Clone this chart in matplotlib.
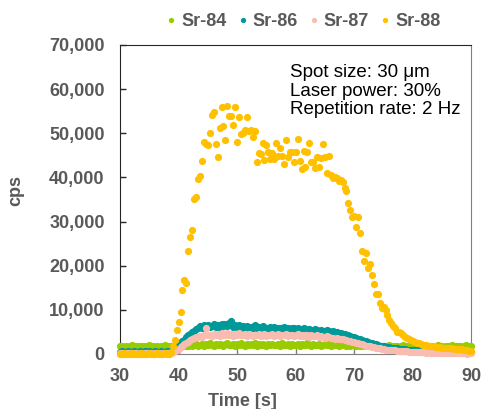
import numpy as np
import matplotlib.pyplot as plt
from matplotlib.lines import Line2D
from matplotlib.ticker import FuncFormatter

# Datos (en miles de cps), una lectura cada 1/3 s entre 30 y 90 s
tiempo = np.arange(181) / 3 + 30

sr84 = [1.7, 1.9, 1.6, 1.8, 1.5, 1.7, 2.0, 1.6, 1.8, 1.7,
        1.9, 1.5, 1.7, 1.8, 1.6, 2.0, 1.7, 1.8, 1.5, 1.9,
        1.6, 1.8, 1.7, 2.1, 1.6, 1.8, 1.7, 1.9, 1.6, 1.8,
        1.7, 1.9, 1.8, 2.0, 1.7, 1.9, 2.1, 1.8, 2.0, 2.2,
        1.9, 2.1, 2.3, 1.9, 2.2, 2.0, 2.4, 2.1, 1.9, 2.2,
        2.0, 2.3, 2.1, 1.9, 2.2, 2.4, 2.0, 2.1, 2.3, 1.9,
        2.2, 2.0, 2.4, 2.1, 1.9, 2.3, 2.0, 2.2, 2.1, 2.4,
        1.9, 2.2, 2.0, 2.3, 2.1, 1.9, 2.2, 2.0, 2.3, 2.1,
        2.0, 2.2, 1.9, 2.4, 2.1, 2.0, 2.3, 1.9, 2.2, 2.0,
        2.1, 2.3, 1.9, 2.2, 2.0, 2.1, 2.4, 2.0, 1.9, 2.2,
        2.1, 2.0, 2.3, 1.9, 2.1, 2.2, 2.0, 2.3, 1.9, 2.1,
        2.0, 2.2, 1.9, 2.1, 2.0, 2.2, 1.8, 2.1, 1.9, 2.0,
        2.1, 1.8, 2.0, 1.9, 2.1, 1.8, 2.0, 1.7, 1.9, 1.8,
        2.0, 1.7, 1.9, 1.8, 1.6, 1.9, 1.7, 1.8, 2.0, 1.6,
        1.8, 1.7, 1.9, 1.6, 1.8, 2.0, 1.7, 1.8, 1.6, 1.9,
        1.7, 1.8, 2.0, 1.6, 1.8, 1.7, 1.9, 1.5, 1.8, 1.7,
        1.9, 1.6, 1.8, 2.0, 1.7, 1.8, 1.6, 1.9, 1.7, 1.8,
        2.0, 1.6, 1.8, 1.7, 1.9, 1.6, 1.8, 2.0, 1.7, 1.8, 1.9]

sr86 = [0.5, 0.6, 0.4, 0.5, 0.7, 0.5, 0.4, 0.6, 0.5, 0.5,
        0.6, 0.4, 0.5, 0.7, 0.5, 0.6, 0.4, 0.5, 0.6, 0.5,
        0.4, 0.6, 0.5, 0.5, 0.7, 0.4, 0.6, 0.8, 1.1, 1.5,
        2.0, 2.3, 2.9, 3.2, 3.8, 4.2, 4.6, 5.0, 5.3, 5.7,
        5.9, 6.3, 5.9, 6.5, 6.2, 6.6, 6.1, 6.4, 6.8, 6.2,
        6.5, 6.0, 6.7, 6.3, 6.9, 6.4, 7.1, 7.5, 6.1, 6.5,
        6.2, 6.6, 5.9, 6.3, 6.0, 6.4, 5.8, 6.2, 6.0, 6.5,
        5.9, 6.1, 5.7, 6.3, 5.9, 6.0, 5.6, 6.1, 5.8, 6.2,
        5.7, 6.0, 5.8, 5.5, 6.1, 5.7, 5.9, 5.6, 6.0, 5.8,
        5.5, 5.9, 5.7, 5.4, 5.8, 5.6, 5.3, 5.7, 5.5, 5.2,
        5.6, 5.4, 5.1, 5.5, 5.3, 5.0, 5.4, 5.1, 4.9, 5.2,
        4.8, 4.9, 4.6, 4.7, 4.4, 4.5, 4.2, 4.3, 4.0, 3.9,
        3.8, 3.6, 3.5, 3.3, 3.2, 3.0, 2.9, 2.7, 2.6, 2.4,
        2.3, 2.2, 2.0, 1.9, 1.8, 1.7, 1.6, 1.6, 1.5, 1.4,
        1.4, 1.3, 1.3, 1.2, 1.2, 1.1, 1.1, 1.0, 1.0, 0.9,
        0.9, 0.9, 0.8, 0.8, 0.8, 0.7, 0.7, 0.7, 0.6, 0.7,
        0.6, 0.6, 0.5, 0.6, 0.5, 0.5, 0.6, 0.5, 0.4, 0.5,
        0.5, 0.4, 0.5, 0.4, 0.5, 0.4, 0.4, 0.5, 0.4, 0.4, 0.4]

sr87 = [0.2, 0.3, 0.1, 0.2, 0.2, 0.3, 0.1, 0.2, 0.2, 0.1,
        0.3, 0.2, 0.1, 0.2, 0.3, 0.2, 0.2, 0.1, 0.3, 0.2,
        0.2, 0.1, 0.3, 0.2, 0.2, 0.1, 0.2, 0.4, 0.6, 0.9,
        1.2, 1.5, 1.9, 2.2, 2.5, 2.8, 3.1, 3.3, 3.6, 3.8,
        3.9, 4.1, 3.8, 4.3, 5.9, 4.2, 4.4, 4.0, 4.6, 4.3,
        4.5, 4.1, 4.7, 4.4, 4.2, 4.8, 4.3, 4.6, 4.1, 4.5,
        4.3, 4.7, 4.2, 4.4, 4.6, 4.1, 4.5, 4.3, 4.0, 4.4,
        4.2, 4.6, 4.1, 4.3, 4.5, 4.0, 4.4, 4.2, 4.6, 4.1,
        4.3, 4.5, 4.0, 4.4, 4.2, 4.6, 4.1, 4.3, 4.4, 4.0,
        4.2, 4.5, 4.1, 4.3, 4.0, 4.4, 4.2, 3.9, 4.3, 4.1,
        4.0, 4.2, 3.8, 4.1, 3.9, 3.7, 4.0, 3.8, 3.6, 3.7,
        3.5, 3.6, 3.4, 3.3, 3.4, 3.1, 3.2, 3.0, 2.9, 2.8,
        2.7, 2.6, 2.4, 2.3, 2.2, 2.0, 1.9, 1.8, 1.7, 1.6,
        1.5, 1.4, 1.3, 1.3, 1.2, 1.1, 1.0, 1.0, 0.9, 0.9,
        0.8, 0.8, 0.7, 0.7, 0.7, 0.6, 0.6, 0.6, 0.5, 0.5,
        0.5, 0.5, 0.4, 0.5, 0.4, 0.4, 0.4, 0.3, 0.4, 0.3,
        0.3, 0.4, 0.3, 0.3, 0.3, 0.2, 0.3, 0.3, 0.2, 0.3,
        0.2, 0.3, 0.2, 0.2, 0.3, 0.2, 0.2, 0.2, 0.1, 0.2, 0.2]

sr88 = [0.1, 0.0, 0.2, 0.1, 0.0, 0.1, 0.2, 0.0, 0.1, 0.1,
        0.0, 0.2, 0.1, 0.1, 0.0, 0.2, 0.1, 0.0, 0.1, 0.2,
        0.1, 0.0, 0.1, 0.2, 0.1, 0.1, 0.4, 1.7, 3.2, 5.4,
        7.3, 9.4, 14.5, 16.8, 16.1, 23.3, 26.4, 28.2, 35.2, 35.5,
        39.6, 40.3, 43.7, 48.1, 47.6, 47.3, 50.1, 54.1, 54.9, 47.5,
        44.7, 51.3, 56.0, 51.7, 48.5, 56.2, 54.0, 54.0, 51.9, 55.9,
        48.1, 53.6, 49.8, 50.1, 50.7, 53.8, 50.6, 50.7, 49.2, 50.6,
        43.6, 45.5, 45.3, 47.7, 44.0, 47.3, 45.8, 44.1, 45.6, 44.2,
        47.9, 44.8, 46.6, 44.8, 43.0, 48.4, 44.7, 45.8, 45.8, 43.6,
        45.8, 48.7, 43.7, 41.9, 46.0, 42.3, 45.8, 47.7, 43.4, 43.6,
        42.1, 44.6, 42.3, 44.3, 47.5, 44.6, 40.9, 44.8, 40.5, 39.8,
        40.2, 39.8, 39.2, 39.4, 39.0, 37.5, 36.9, 34.1, 32.6, 31.1,
        31.3, 28.7, 31.1, 27.5, 23.4, 21.1, 22.8, 19.4, 20.3, 17.9,
        15.8, 13.7, 13.6, 11.5, 10.4, 10.7, 10.0, 8.8, 7.7, 7.0,
        6.3, 5.8, 5.0, 4.9, 4.7, 4.2, 3.9, 3.6, 3.3, 3.1,
        2.9, 2.8, 2.6, 2.4, 2.3, 2.1, 2.0, 2.0, 1.9, 1.9,
        1.8, 1.7, 1.65, 1.6, 1.5, 1.4, 1.4, 1.35, 1.3, 1.3,
        1.25, 1.2, 1.2, 1.15, 1.1, 1.05, 1.0, 0.9, 0.8, 0.75, 0.7]

nombres = ["Sr-84", "Sr-86", "Sr-87", "Sr-88"]
colores = ["#99CC00", "#009999", "#F8BCB0", "#FFC000"]
gris = "#595959"

plt.rcParams['font.family'] = ['Liberation Sans', 'DejaVu Sans']
plt.rcParams['font.weight'] = 'bold'

fig = plt.figure(figsize=(4.82, 4.09), dpi=100)
ax = fig.add_axes([0.249, 0.1345, 0.729, 0.7555])

# orden de dibujo: Sr-88 queda encima de todo
for serie, color in zip([sr84, sr86, sr87, sr88], colores):
    ax.scatter(tiempo, np.array(serie) * 1000, s=27, color=color, linewidths=0,
               clip_on=False, zorder=3)

ax.set_xlim(30, 90)
ax.set_ylim(0, 70000)
ax.set_xticks(range(30, 91, 10))
ax.set_yticks(range(0, 70001, 10000))
ax.yaxis.set_major_formatter(FuncFormatter(lambda v, p: f"{v:,.0f}"))

ax.tick_params(direction="in", length=4, width=1, labelsize=13, labelcolor=gris)
ax.tick_params(axis="y", pad=11, color="#262626")
ax.tick_params(axis="x", pad=10, color="#7F7F7F")

ax.spines["left"].set_color("#262626")
ax.spines["top"].set_color("#262626")
ax.spines["bottom"].set_color("#7F7F7F")
ax.spines["right"].set_color("#7F7F7F")

fig.text(242 / 482, 1 - 401 / 409, "Time [s]", ha="center", va="center",
         fontsize=13, color=gris)
fig.text(16 / 482, 1 - 191 / 409, "cps", ha="center", va="center", rotation=90,
         fontsize=13, color=gris)

# cuadro de texto con las condiciones del laser
lineas = ["Spot size: 30 μm", "Laser power: 30%", "Repetition rate: 2 Hz"]
for texto, yb in zip(lineas, [77, 95.5, 114.5]):
    fig.text(290 / 482, 1 - yb / 409, texto, ha="left", va="baseline",
             fontsize=13.5, fontweight="normal", color="black")

manijas = [Line2D([], [], linestyle="none", marker="o", markersize=3.8,
                  markeredgewidth=0, color=c) for c in colores]
fig.legend(manijas, nombres, loc="center", bbox_to_anchor=(304 / 482, 1 - 22 / 409),
           ncol=4, frameon=False, fontsize=13, labelcolor=gris, handlelength=0.4,
           handletextpad=0.35, columnspacing=0.7, borderpad=0, borderaxespad=0)

fig.savefig("out.png", dpi=100)
